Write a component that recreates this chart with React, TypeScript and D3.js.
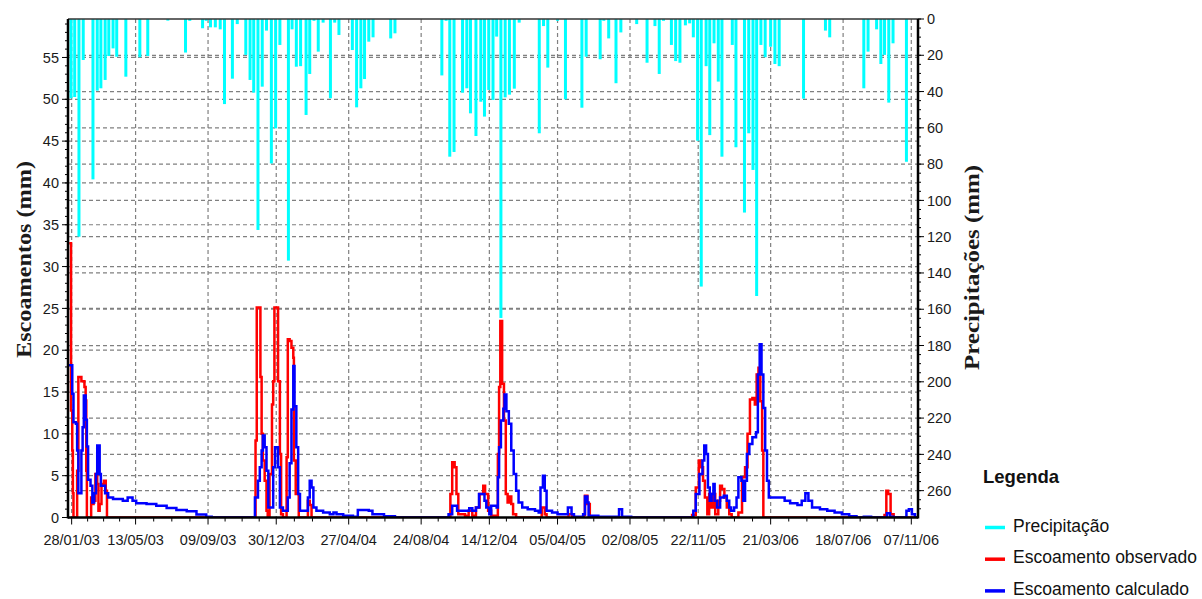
import React from 'react';
import * as d3 from 'd3';

// day offsets are counted from 28/01/2003
const T0 = Date.UTC(2003, 0, 28);
const toDate = (d: number) => new Date(T0 + d * 864e5);

const dateTicks = [
  '2003-01-28', '2003-05-13', '2003-09-09', '2003-12-30', '2004-04-27', '2004-08-24',
  '2004-12-14', '2005-04-05', '2005-08-02', '2005-11-22', '2006-03-21', '2006-07-18', '2006-11-07',
];
const leftTicks = [0, 5, 10, 15, 20, 25, 30, 35, 40, 45, 50, 55];
const rightTicks = [0, 20, 40, 60, 80, 100, 120, 140, 160, 180, 200, 220, 240, 260];

// Precipitação (mm), bars hanging from the top
const precipDays = [
  -1, 5, 12, 19, 35, 42, 48, 55, 61, 68, 74, 89, 112, 125, 158, 187, 194, 215, 221, 228,
  236, 244, 251, 264, 272, 286, 293, 299, 306, 313, 320, 328, 335, 342, 356, 362, 369, 376,
  385, 391, 398, 405, 413, 425, 432, 439, 461, 468, 475, 481, 488, 495, 524, 531, 608, 615,
  621, 628, 642, 649, 655, 664, 672, 678, 685, 692, 698, 705, 712, 719, 727, 735, 768, 775,
  782, 798, 811, 838, 845, 868, 874, 882, 894, 902, 928, 945, 958, 965, 972, 985, 992, 999,
  1008, 1015, 1021, 1028, 1034, 1042, 1048, 1055, 1062, 1068, 1085, 1091, 1105, 1112, 1119,
  1125, 1132, 1139, 1148, 1155, 1162, 1202, 1238, 1245, 1301, 1308, 1322, 1329, 1335, 1342,
  1349, 1371,
];
const precipMm = [
  43.7, 43, 120, 22.6, 88.4, 39.5, 38.2, 33.6, 20.4, 16.2, 20.8, 31.8, 21.1, 20.4, 0.9, 18.5, 1, 5.1, 1, 4.6,
  4.6, 5.7, 46.9, 32.9, 2.8, 19.8, 33.6, 40.6, 116.3, 37.3, 6.4, 79.6, 60.3, 14.3, 133.2, 5.7, 26.3, 26,
  52.9, 30.3, 1, 18, 2, 43.7, 2, 8.8, 17.1, 48.7, 38.2, 33.1, 12.5, 10.1, 10.7, 7.9, 31.1, 1,
  75.9, 73.3, 40.6, 38.2, 52, 64.5, 45.6, 53.8, 39.1, 44.6, 9.7, 164.8, 43.2, 41.7, 38.4, 2, 63, 3.9,
  26.8, 1, 44.3, 48.9, 20.8, 22.2, 1, 10.7, 35.4, 7.4, 2.8, 24.1, 3.9, 30.3, 1, 14.3, 23.2, 24.1,
  3.5, 2.4, 10.1, 67.1, 147.5, 26, 64, 13.4, 34.5, 75.9, 14.3, 70.7, 106.7, 63, 83.2,
  152.7, 14.3, 21.1, 15.3, 24.8, 26, 43.9, 6.4, 10.1, 38.2, 18, 5.7, 24.8, 19.8, 46.1,
  13.4, 78.7,
];

// Escoamento observado (mm): [day, value]
const observed: [number, number][] = [
  [-4, 32.8], [-1, 12.8], [1, 8], [2, 2.9], [3, 0], [9, 5.6], [11, 16.8], [16, 16.3], [21, 15.6],
  [23, 14], [24, 5.6], [25, 0], [32, 2.4], [34, 1.6], [36, 2], [39, 5.2], [42, 4], [44, 0.8],
  [46, 1.6], [49, 4], [53, 4.4], [56, 3.2], [58, 0],
  [295, 0], [302, 9.2], [304, 25.1], [310, 16.8], [312, 10], [314, 6.8], [317, 4.4], [320, 0.8],
  [322, 0], [325, 5.2], [329, 13.5], [331, 16.3], [333, 25.1], [339, 16.3], [342, 7.6], [344, 0.4],
  [347, 0], [353, 7.2], [355, 21.3], [358, 21.1], [361, 20.3], [364, 19.1], [365, 6.8], [368, 2.8],
  [373, 0], [388, 2], [391, 1.5], [394, 0],
  [619, 0], [622, 2.8], [625, 6.6], [629, 6], [632, 2.8], [635, 0.4], [646, 0.2], [652, 0.8],
  [658, 0.2], [664, 1.2], [670, 2.8], [676, 3.8], [679, 2.8], [684, 0.8], [689, 0.2], [700, 7.6],
  [702, 15.6], [704, 23.5], [707, 16], [710, 11.6], [713, 2.8], [716, 1.8], [719, 2.5], [722, 1.6],
  [725, 0.4], [730, 0], [772, 1.2], [777, 0.4], [780, 0], [816, 0.4], [822, 0], [841, 0.3],
  [843, 2.6], [847, 1.6], [851, 0],
  [1019, 0.3], [1025, 3.6], [1030, 6.8], [1033, 6], [1037, 4.4], [1040, 2.4], [1044, 0.4],
  [1047, 2.8], [1050, 1.2], [1054, 2.8], [1057, 0.4], [1062, 2], [1065, 3.8], [1068, 3.4],
  [1072, 2.4], [1076, 1.2], [1080, 0.4], [1084, 0], [1095, 0.6], [1101, 4.8], [1106, 6],
  [1110, 10], [1114, 14.1], [1118, 14.3], [1122, 13.5], [1125, 17.1], [1128, 17.9], [1131, 13.9],
  [1134, 8], [1136, 0], [1335, 0.3], [1338, 3.2], [1341, 2.8], [1345, 0.4], [1350, 0], [1390, 0],
];

// Escoamento calculado (mm): [day, value]
const calculated: [number, number][] = [
  [-6, 18.2], [1, 14.8], [3, 11.4], [7, 11.2], [9, 8], [11, 2.9], [16, 8], [18, 10.8], [20, 14.6],
  [23, 11.7], [25, 8.5], [27, 4.5], [31, 3.8], [34, 1.8], [37, 2.9], [40, 5.2], [42, 8.6], [46, 5.2],
  [48, 3.8], [55, 2.9], [60, 2.4], [68, 2.2], [84, 2], [92, 2.4], [100, 2], [106, 1.7], [123, 1.6],
  [139, 1.4], [156, 1.15], [172, 0.9], [189, 0.75], [205, 0.35], [221, 0.1], [230, 0],
  [295, 0], [301, 2.4], [306, 4.4], [309, 6], [312, 8], [314, 9.8], [317, 8.4], [320, 5.6],
  [323, 1.2], [331, 6], [334, 8.4], [339, 6], [342, 1.2], [347, 0.8], [355, 2.4], [358, 6.5],
  [361, 12.9], [364, 18.1], [366, 13.3], [369, 8.4], [372, 2.8], [375, 0.8], [388, 2.4], [391, 4.4],
  [394, 3.6], [397, 1.2], [402, 0.8], [413, 0.6], [424, 0.4], [430, 0.6], [435, 0.4], [446, 0.2],
  [462, 0.1], [470, 0.9], [488, 0.8], [494, 0.4], [513, 0.15], [531, 0],
  [619, 0.4], [625, 1.4], [633, 0.8], [653, 1.1], [658, 0.8], [664, 1.2], [669, 2.8], [678, 2],
  [681, 1.2], [686, 0.4], [689, 1.4], [698, 1.2], [700, 4.8], [702, 8.4], [705, 11.6], [709, 13],
  [711, 14.7], [714, 12.7], [718, 11.2], [722, 8], [726, 5.2], [730, 3.2], [734, 1.8], [740, 1.2],
  [749, 1], [761, 0.8], [767, 0.6], [770, 3.6], [774, 5], [777, 3.2], [780, 0.8], [789, 0.6],
  [798, 0.4], [815, 1.2], [821, 0.4], [825, 0.1], [840, 0.4], [843, 2.5], [847, 1.8], [849, 0.2],
  [865, 0.1], [899, 1], [904, 0.1], [919, 0],
  [1021, 0.8], [1025, 2.8], [1031, 5.2], [1036, 6.8], [1039, 8.6], [1042, 7.6], [1045, 3.6],
  [1048, 2], [1051, 2.8], [1054, 4], [1056, 2], [1060, 1.2], [1065, 2.4], [1071, 2.6], [1076, 2],
  [1080, 1.2], [1083, 0.8], [1088, 1.2], [1092, 2.4], [1095, 4.8], [1100, 4.4], [1103, 2],
  [1106, 4.4], [1109, 7.6], [1113, 8.8], [1118, 9.6], [1124, 10.2], [1127, 17.1], [1130, 20.7],
  [1133, 17.1], [1136, 13.1], [1139, 8], [1142, 4.4], [1145, 2.4], [1165, 2.4], [1171, 2],
  [1180, 1.7], [1192, 1.5], [1199, 2], [1205, 2.9], [1210, 2], [1216, 1.2], [1229, 1], [1241, 0.8],
  [1253, 0.6], [1265, 0.4], [1277, 0.15], [1289, 0], [1301, 0.1], [1313, 0], [1339, 0.5],
  [1344, 0.1], [1350, 0], [1371, 0.8], [1375, 1], [1380, 0.4], [1385, 0], [1390, 0],
];

const legendItems = [
  { label: 'Precipitação', color: '#00ffff' },
  { label: 'Escoamento observado', color: '#ff0000' },
  { label: 'Escoamento calculado', color: '#0000ff' },
];

const W = 1202;
const H = 599;
const L = 68, R = 918, T = 19, B = 517.5;
const SANS = '"Liberation Sans", Arial, sans-serif';
const SERIF = '"Liberation Serif", "Times New Roman", serif';

export default function App() {
  const x = d3.scaleUtc().domain([toDate(-6), toDate(1390)]).range([L, R]);
  const yL = d3.scaleLinear().domain([0, 59.6]).range([B, T]);
  const yR = d3.scaleLinear().domain([0, 274.8]).range([T, B]);

  const ticks = dateTicks.map((s) => new Date(s + 'T00:00:00Z'));
  const fmt = d3.utcFormat('%d/%m/%y');
  const minorX: number[] = [];
  for (let i = 0; i < ticks.length - 1; i++) {
    const a = x(ticks[i]), b = x(ticks[i + 1]);
    for (let k = 1; k < 4; k++) minorX.push(a + ((b - a) * k) / 4);
  }
  const minorL = d3.range(0, 60, 1);
  const minorR = d3.range(0, 275, 5);

  const line = d3
    .line<[number, number]>()
    .x((d) => x(toDate(d[0])))
    .y((d) => yL(d[1]))
    .curve(d3.curveStepAfter);

  const grid = { stroke: '#808080', strokeWidth: 1.2, strokeDasharray: '4,3' };

  return (
    <svg width={W} height={H} style={{ position: 'absolute', left: 0, top: 0, background: '#fff' }}>
      <defs>
        <clipPath id="plot">
          <rect x={L} y={T} width={R - L} height={B - T} />
        </clipPath>
      </defs>

      {/* grid */}
      <g>
        {leftTicks.slice(1).map((v) => (
          <line key={'gl' + v} x1={L} x2={R} y1={yL(v)} y2={yL(v)} {...grid} />
        ))}
        {rightTicks.slice(1).map((v) => (
          <line key={'gr' + v} x1={L} x2={R} y1={yR(v)} y2={yR(v)} {...grid} />
        ))}
        {ticks.map((t, i) => (
          <line key={'gx' + i} x1={x(t)} x2={x(t)} y1={T} y2={B} {...grid} />
        ))}
      </g>

      {/* precipitation bars */}
      <g clipPath="url(#plot)">
        {precipDays.map((d, i) => (
          <rect
            key={'p' + i}
            x={x(toDate(d)) - 1.5}
            y={T}
            width={3}
            height={yR(precipMm[i]) - T}
            fill="#00ffff"
          />
        ))}
      </g>

      {/* runoff lines */}
      <g clipPath="url(#plot)" fill="none" strokeWidth={2.5} strokeLinejoin="miter">
        <path d={line(observed) || ''} stroke="#ff0000" />
        <path d={line(calculated) || ''} stroke="#0000ff" />
      </g>

      {/* frame */}
      <line x1={L} x2={R} y1={T} y2={T} stroke="#333" strokeWidth={1.5} />
      <line x1={L} x2={L} y1={T} y2={B + 1} stroke="#000" strokeWidth={2.5} />
      <line x1={R} x2={R} y1={T} y2={B + 1} stroke="#000" strokeWidth={2.5} />
      <line x1={L} x2={R} y1={B} y2={B} stroke="#000" strokeWidth={2.5} />

      {/* left axis */}
      <g fontFamily={SANS} fontSize={14.5} fill="#1a1a1a">
        {minorL.map((v) => (
          <line key={'ml' + v} x1={L - 3} x2={L} y1={yL(v)} y2={yL(v)} stroke="#000" />
        ))}
        {leftTicks.map((v) => (
          <g key={'tl' + v}>
            <line x1={L - 6} x2={L} y1={yL(v)} y2={yL(v)} stroke="#000" />
            <text x={59} y={yL(v) + 5.2} textAnchor="end">{v}</text>
          </g>
        ))}
      </g>

      {/* right axis */}
      <g fontFamily={SANS} fontSize={14.5} fill="#1a1a1a">
        {minorR.map((v) => (
          <line key={'mr' + v} x1={R} x2={R + 3} y1={yR(v)} y2={yR(v)} stroke="#000" />
        ))}
        {rightTicks.map((v) => (
          <g key={'tr' + v}>
            <line x1={R} x2={R + 6} y1={yR(v)} y2={yR(v)} stroke="#000" />
            <text x={927} y={yR(v) + 5.2}>{v}</text>
          </g>
        ))}
      </g>

      {/* bottom axis */}
      <g fontFamily={SANS} fontSize={14.5} fill="#1a1a1a">
        {minorX.map((v, i) => (
          <line key={'mx' + i} x1={v} x2={v} y1={B} y2={B + 4} stroke="#000" />
        ))}
        {ticks.map((t, i) => (
          <g key={'tx' + i}>
            <line x1={x(t)} x2={x(t)} y1={B} y2={B + 7} stroke="#000" />
            <text x={x(t)} y={545} textAnchor="middle">{fmt(t)}</text>
          </g>
        ))}
      </g>

      {/* axis titles */}
      <text
        transform="translate(31,259.5) rotate(-90)"
        textAnchor="middle"
        fontFamily={SERIF}
        fontWeight="bold"
        fontSize={21}
        textLength={197}
        lengthAdjust="spacingAndGlyphs"
        fill="#1a1a1a"
      >
        Escoamentos (mm)
      </text>
      <text
        transform="translate(979,267.5) rotate(-90)"
        textAnchor="middle"
        fontFamily={SERIF}
        fontWeight="bold"
        fontSize={21}
        textLength={205}
        lengthAdjust="spacingAndGlyphs"
        fill="#1a1a1a"
      >
        Precipitações (mm)
      </text>

      {/* legend */}
      <g fontFamily={SANS} fill="#111">
        <text x={983} y={483} fontWeight="bold" fontSize={18.5}>Legenda</text>
        {legendItems.map((it, i) => (
          <g key={it.label}>
            <line x1={985} x2={1005} y1={527.5 + i * 31.7} y2={527.5 + i * 31.7} stroke={it.color} strokeWidth={3.5} />
            <text x={1013} y={531.5 + i * 31.7} fontSize={17.5}>{it.label}</text>
          </g>
        ))}
      </g>
    </svg>
  );
}
